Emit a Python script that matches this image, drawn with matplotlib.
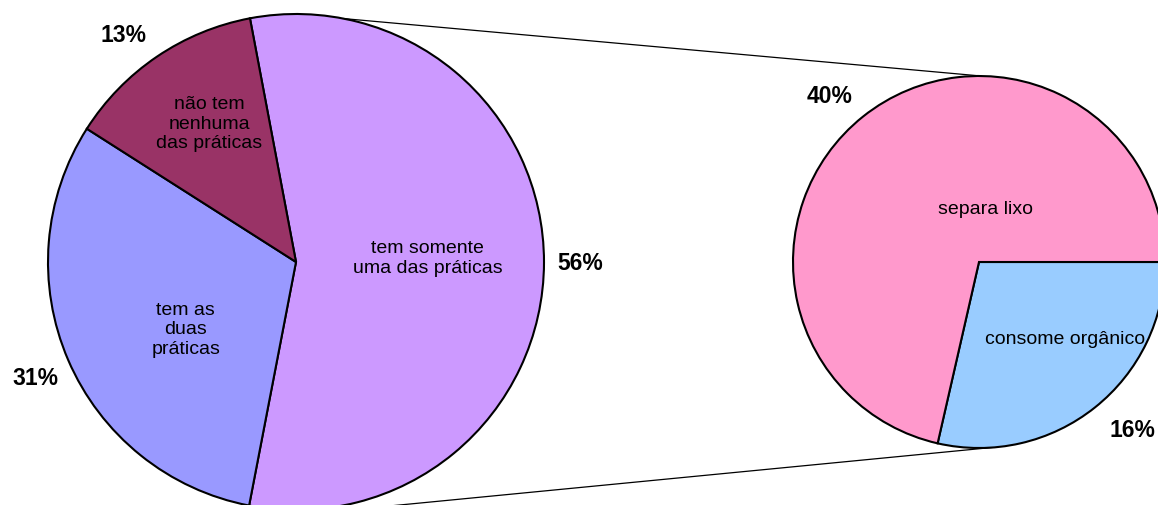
import numpy as np
import matplotlib
matplotlib.use("Agg")
from matplotlib import pyplot as plt

plt.rcParams['font.family'] = ['Liberation Sans', 'DejaVu Sans']

# main pie
main_values = [56, 31, 13]
main_labels = ['tem somente\numa das práticas', 'tem as\nduas\npráticas',
               'não tem\nnenhuma\ndas práticas']
main_colors = ['#CC99FF', '#9999FF', '#993366']

# breakdown of "tem somente uma das práticas"
sub_values = [16, 40]
sub_labels = ['consome orgânico', 'separa lixo']
sub_colors = ['#99CCFF', '#FF99CC']

W, H = 1158, 506
fig = plt.figure(figsize=(W / 100, H / 100), dpi=100)
ax = fig.add_axes([0, 0, 1, 1])

c1, r1 = (296, 243), 248
c2, r2 = (979, 243), 186

wp = dict(edgecolor='black', linewidth=1.5)
w1, _ = ax.pie(main_values, colors=main_colors, startangle=100.7, counterclock=False,
               center=c1, radius=r1, wedgeprops=wp, frame=True)
w2, _ = ax.pie(sub_values, colors=sub_colors, startangle=0, counterclock=False,
               center=c2, radius=r2, wedgeprops=wp, frame=True)
ax.set_xlim(0, W)
ax.set_ylim(0, H)
ax.set_aspect('equal')
ax.axis('off')

# connector lines (start on the arc of the big pie)
a_top, a_bot = np.deg2rad(79), np.deg2rad(-86)
ax.plot([c1[0] + r1 * np.cos(a_top), c2[0] + 2],
        [c1[1] + r1 * np.sin(a_top), c2[1] + r2], color='black', lw=0.9, zorder=0)
ax.plot([c1[0] + r1 * np.cos(a_bot), c2[0] + 18],
        [c1[1] + r1 * np.sin(a_bot) - 4, c2[1] - r2 + 1], color='black', lw=0.9, zorder=0)


def place(wedge, center, r, frac, dang=0.0):
    mid = np.deg2rad((wedge.theta1 + wedge.theta2) / 2 + dang)
    return center[0] + frac * r * np.cos(mid), center[1] + frac * r * np.sin(mid)


pct_kw = dict(fontsize=16.5, fontweight='bold', ha='center', va='center')
lab_kw = dict(fontsize=14, ha='center', va='center', linespacing=1.2)

# main pie texts
inner = [(0.53, 2), (0.52, 8), (0.66, -2)]
outer = [(1.145, 0), (1.15, 0.5), (1.15, 3)]
for w, v, lab, (fi, di), (fo, do) in zip(w1, main_values, main_labels, inner, outer):
    x, y = place(w, c1, r1, fi, di)
    ax.text(x, y, lab, **lab_kw)
    x, y = place(w, c1, r1, fo, do)
    ax.text(x, y, f'{v}%', **pct_kw)

# sub pie texts
inner = [(0.62, 10), (0.29, -45)]
outer = [(1.22, 4), (1.2, 3.3)]
for w, v, lab, (fi, di), (fo, do) in zip(w2, sub_values, sub_labels, inner, outer):
    x, y = place(w, c2, r2, fi, di)
    ax.text(x, y, lab, **lab_kw)
    x, y = place(w, c2, r2, fo, do)
    ax.text(x, y, f'{v}%', **pct_kw)

fig.savefig('out.png', dpi=100)
